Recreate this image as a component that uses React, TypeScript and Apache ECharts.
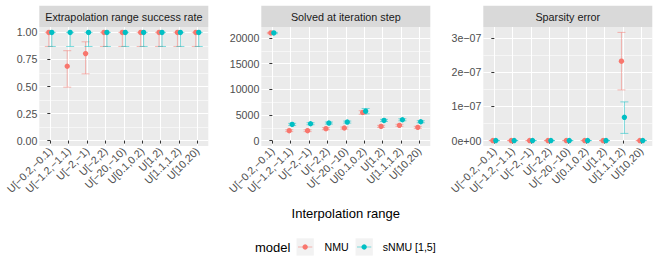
import React, { useEffect, useRef } from "react";
import * as echarts from "echarts";

const categories = [
  "U[−0.2,−0.1)",
  "U[−1.2,−1.1)",
  "U[−2,−1)",
  "U[−2,2)",
  "U[−20,−10)",
  "U[0.1,0.2)",
  "U[1,2)",
  "U[1.1,1.2)",
  "U[10,20)",
];

const panelTitles = ["Extrapolation range success rate", "Solved at iteration step", "Sparsity error"];
const models = ["NMU", "sNMU [1,5]"];

// Panel 1: success rate
const successNMU = [1, 0.687, 0.804, 1, 1, 1, 1, 1, 1];
const successNMULo = [0.87, 0.494, 0.617, 0.87, 0.87, 0.87, 0.87, 0.87, 0.87];
const successNMUHi = [1, 0.831, 0.913, 1, 1, 1, 1, 1, 1];
const successSNMU = [1, 1, 1, 1, 1, 1, 1, 1, 1];
const successSNMULo = [0.87, 0.87, 0.87, 0.87, 0.87, 0.87, 0.87, 0.87, 0.87];
const successSNMUHi = [1, 1, 1, 1, 1, 1, 1, 1, 1];

// Panel 2: solved at iteration step
const iterNMU = [21000, 1935, 1935, 2320, 2450, 5480, 2770, 2970, 2580];
const iterNMULo = [20850, 1750, 1750, 2120, 2250, 5130, 2570, 2770, 2380];
const iterNMUHi = [21100, 2120, 2120, 2520, 2650, 5830, 2970, 3170, 2780];
const iterSNMU = [21000, 3160, 3290, 3420, 3610, 5740, 3935, 4065, 3680];
const iterSNMULo = [20850, 2960, 3090, 3220, 3410, 5220, 3735, 3865, 3480];
const iterSNMUHi = [21100, 3360, 3490, 3620, 3810, 6260, 4135, 4265, 3880];

// Panel 3: sparsity error
const sparsNMU = [0, 0, 0, 0, 0, 0, 0, 2.32e-7, 0];
const sparsNMULo = [0, 0, 0, 0, 0, 0, 0, 1.48e-7, 0];
const sparsNMUHi = [0, 0, 0, 0, 0, 0, 0, 3.16e-7, 0];
const sparsSNMU = [0, 0, 0, 0, 0, 0, 0, 0.68e-7, 0];
const sparsSNMULo = [0, 0, 0, 0, 0, 0, 0, 0.21e-7, 0];
const sparsSNMUHi = [0, 0, 0, 0, 0, 0, 0, 1.13e-7, 0];

const p1Ticks = [0, 0.25, 0.5, 0.75, 1];
const p1Labels = ["0.00", "0.25", "0.50", "0.75", "1.00"];
const p1Minor = [0.125, 0.375, 0.625, 0.875];
const p2Ticks = [0, 5000, 10000, 15000, 20000];
const p2Labels = ["0", "5000", "10000", "15000", "20000"];
const p2Minor = [2500, 7500, 12500, 17500];
const p3Ticks = [0, 1e-7, 2e-7, 3e-7];
const p3Labels = ["0e+00", "1e−07", "2e−07", "3e−07"];
const p3Minor = [0.5e-7, 1.5e-7, 2.5e-7];

const FONT = "'Liberation Sans', Arial, Helvetica, sans-serif";
const RED = "#F8766D";
const CYAN = "#00BFC4";
const RED_A = "rgba(248,118,109,0.5)";
const CYAN_A = "rgba(0,191,196,0.5)";

const GRID_LEFTS = [39.3, 261.3, 483.3];
const GRID_TOP = 27;
const GRID_W = 169;
const GRID_H = 119;
const DODGE = 0.08;

function errRender(offset: number, color: string) {
  return (params: any, api: any) => {
    const x = api.value(0) + offset;
    const lo = api.coord([x, api.value(1)]);
    const hi = api.coord([x, api.value(2)]);
    const w = 4;
    const style = { stroke: color, lineWidth: 1, fill: "none" };
    return {
      type: "group",
      children: [
        { type: "line", shape: { x1: lo[0], y1: lo[1], x2: hi[0], y2: hi[1] }, style },
        { type: "line", shape: { x1: lo[0] - w, y1: lo[1], x2: lo[0] + w, y2: lo[1] }, style },
        { type: "line", shape: { x1: hi[0] - w, y1: hi[1], x2: hi[0] + w, y2: hi[1] }, style },
      ],
    };
  };
}

export default function App() {
  const ref = useRef<HTMLDivElement>(null);
  useEffect(() => {
    const chart = echarts.init(ref.current!, null, { renderer: "svg" });

    const idx = categories.map((_, i) => i);
    const panels = [
      {
        min: -0.05, max: 1.05, ticks: p1Ticks, labels: p1Labels, minor: p1Minor,
        a: successNMU, aLo: successNMULo, aHi: successNMUHi,
        b: successSNMU, bLo: successSNMULo, bHi: successSNMUHi,
      },
      {
        min: -1055, max: 22155, ticks: p2Ticks, labels: p2Labels, minor: p2Minor,
        a: iterNMU, aLo: iterNMULo, aHi: iterNMUHi,
        b: iterSNMU, bLo: iterSNMULo, bHi: iterSNMUHi,
      },
      {
        min: -0.158e-7, max: 3.318e-7, ticks: p3Ticks, labels: p3Labels, minor: p3Minor,
        a: sparsNMU, aLo: sparsNMULo, aHi: sparsNMUHi,
        b: sparsSNMU, bLo: sparsSNMULo, bHi: sparsSNMUHi,
      },
    ];

    const grid: any[] = [];
    const xAxis: any[] = [];
    const yAxis: any[] = [];
    const series: any[] = [];
    const graphic: any[] = [];

    panels.forEach((p, g) => {
      grid.push({
        left: GRID_LEFTS[g], top: GRID_TOP, width: GRID_W, height: GRID_H,
        show: true, backgroundColor: "#EBEBEB", borderWidth: 0,
      });
      xAxis.push({
        type: "value", gridIndex: g, min: -0.6, max: 8.6,
        axisLine: { show: false },
        axisTick: { show: true, length: 3, customValues: idx, lineStyle: { color: "#333333", width: 1 } },
        axisLabel: {
          show: true, customValues: idx, rotate: 45, margin: 3,
          fontFamily: FONT, fontSize: 10.6, color: "#4D4D4D",
          formatter: (v: number) => categories[Math.round(v)] ?? "",
        },
        splitLine: { show: true, lineStyle: { color: "#FFFFFF", width: 1.1 } },
      });
      yAxis.push({
        type: "value", gridIndex: g, min: p.min, max: p.max,
        axisLine: { show: false },
        axisTick: { show: true, length: 3, customValues: p.ticks, lineStyle: { color: "#333333", width: 1 } },
        axisLabel: {
          show: true, customValues: p.ticks, margin: 2,
          fontFamily: FONT, fontSize: 10.6, color: "#4D4D4D",
          formatter: (v: number) => {
            let best = 0;
            p.ticks.forEach((t, i) => { if (Math.abs(t - v) < Math.abs(p.ticks[best] - v)) best = i; });
            return p.labels[best];
          },
        },
        splitLine: { show: true, lineStyle: { color: "#FFFFFF", width: 1.1 } },
      });
      yAxis.push({
        type: "value", gridIndex: g, min: p.min, max: p.max, position: "left",
        axisLine: { show: false },
        axisTick: { show: false, customValues: p.minor },
        axisLabel: { show: false, customValues: p.minor },
        splitLine: { show: true, lineStyle: { color: "#FFFFFF", width: 0.55 } },
      });

      const yi = g * 2;
      series.push({
        type: "custom", xAxisIndex: g, yAxisIndex: yi, name: models[0],
        renderItem: errRender(-DODGE, RED_A), encode: { x: 0, y: [1, 2] },
        data: idx.map((i) => [i, p.aLo[i], p.aHi[i]]), z: 2, clip: false,
      });
      series.push({
        type: "custom", xAxisIndex: g, yAxisIndex: yi, name: models[1],
        renderItem: errRender(DODGE, CYAN_A), encode: { x: 0, y: [1, 2] },
        data: idx.map((i) => [i, p.bLo[i], p.bHi[i]]), z: 2, clip: false,
      });
      series.push({
        type: "scatter", xAxisIndex: g, yAxisIndex: yi, name: models[0],
        symbol: "circle", symbolSize: 5.4, itemStyle: { color: RED, opacity: 1 },
        data: idx.map((i) => [i - DODGE, p.a[i]]), z: 3,
      });
      series.push({
        type: "scatter", xAxisIndex: g, yAxisIndex: yi, name: models[1],
        symbol: "circle", symbolSize: 5.4, itemStyle: { color: CYAN, opacity: 1 },
        data: idx.map((i) => [i + DODGE, p.b[i]]), z: 4,
      });

      graphic.push({
        type: "rect", left: GRID_LEFTS[g], top: 5.7,
        shape: { width: GRID_W, height: 21.3 }, style: { fill: "#D9D9D9" },
      });
      graphic.push({
        type: "text", x: GRID_LEFTS[g] + GRID_W / 2, y: 16.5,
        style: {
          text: panelTitles[g], fontFamily: FONT, fontSize: 10.8, fill: "#1A1A1A",
          align: "center", verticalAlign: "middle",
        },
      });
    });

    // axis title
    graphic.push({
      type: "text", x: (GRID_LEFTS[0] + GRID_LEFTS[2] + GRID_W) / 2, y: 213,
      style: {
        text: "Interpolation range", fontFamily: FONT, fontSize: 13, fill: "#000000",
        align: "center", verticalAlign: "middle",
      },
    });

    // legend
    const legY = 247;
    graphic.push({
      type: "text", x: 255, y: legY,
      style: { text: "model", fontFamily: FONT, fontSize: 13, fill: "#000000", align: "left", verticalAlign: "middle" },
    });
    const keyX = [296.5, 355.5];
    const textX = [324.5, 382.7];
    const cols = [RED, CYAN];
    const colsA = [RED_A, CYAN_A];
    models.forEach((m, k) => {
      graphic.push({
        type: "rect", x: keyX[k], y: legY - 8.7,
        shape: { width: 17.3, height: 17.3 }, style: { fill: "#F2F2F2" },
      });
      graphic.push({
        type: "line", shape: { x1: keyX[k] + 1.5, y1: legY, x2: keyX[k] + 15.8, y2: legY },
        style: { stroke: colsA[k], lineWidth: 1 },
      });
      graphic.push({
        type: "circle", shape: { cx: keyX[k] + 8.65, cy: legY, r: 2.7 },
        style: { fill: cols[k] },
      });
      graphic.push({
        type: "text", x: textX[k], y: legY,
        style: { text: m, fontFamily: FONT, fontSize: 10.6, fill: "#000000", align: "left", verticalAlign: "middle" },
      });
    });

    chart.setOption({
      animation: false,
      backgroundColor: "#FFFFFF",
      textStyle: { fontFamily: FONT },
      grid, xAxis, yAxis, series, graphic,
    });
    return () => chart.dispose();
  }, []);
  return <div ref={ref} style={{ position: "absolute", left: 0, top: 0, width: 664, height: 271 }} />;
}
